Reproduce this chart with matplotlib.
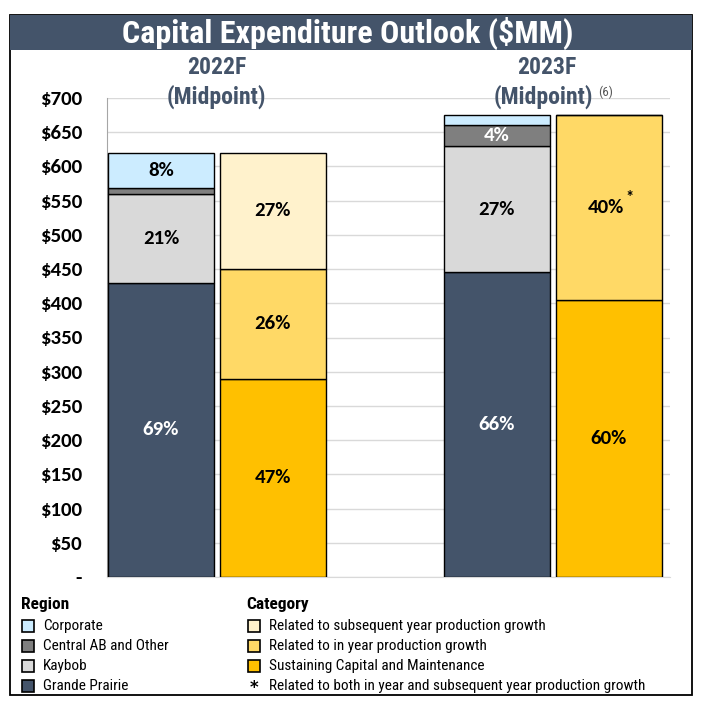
import matplotlib
matplotlib.use("Agg")
import matplotlib.pyplot as plt
from matplotlib.patches import Rectangle
import numpy as np

# data ($MM)
years = ["2022F", "2023F"]
region_names = ["Grande Prairie", "Kaybob", "Central AB and Other", "Corporate"]
region_vals = {
    "Grande Prairie": [430, 445],
    "Kaybob": [130, 185],
    "Central AB and Other": [9, 30],
    "Corporate": [51, 15],
}
region_pct = {
    "Grande Prairie": ["69%", "66%"],
    "Kaybob": ["21%", "27%"],
    "Central AB and Other": ["", "4%"],
    "Corporate": ["8%", ""],
}
cat_names = ["Sustaining Capital and Maintenance",
             "Related to in year production growth",
             "Related to subsequent year production growth"]
cat_vals = {
    "Sustaining Capital and Maintenance": [290, 405],
    "Related to in year production growth": [160, 270],
    "Related to subsequent year production growth": [170, 0],
}
cat_pct = {
    "Sustaining Capital and Maintenance": ["47%", "60%"],
    "Related to in year production growth": ["26%", "40%"],
    "Related to subsequent year production growth": ["27%", ""],
}
yticks = [0, 50, 100, 150, 200, 250, 300, 350, 400, 450, 500, 550, 600, 650, 700]
ytick_labels = ["-"] + ["$%d" % v for v in yticks[1:]]

colors = {
    "Grande Prairie": "#44546A",
    "Kaybob": "#D9D9D9",
    "Central AB and Other": "#7F7F7F",
    "Corporate": "#CCECFF",
    "Sustaining Capital and Maintenance": "#FFC000",
    "Related to in year production growth": "#FFD966",
    "Related to subsequent year production growth": "#FFF2CC",
}
white_lbl = {"Grande Prairie", "Central AB and Other"}

narrow = ["Roboto Condensed", "DejaVu Sans"]
calib = ["Carlito", "DejaVu Sans"]
slate = "#44546A"

W, H = 706, 708
def fx(p): return p / W
def fy(p): return 1 - p / H

fig = plt.figure(figsize=(7.06, 7.08), dpi=100)

# outer frame + title banner
fig.add_artist(Rectangle((fx(10), fy(695)), fx(692) - fx(10), fy(15) - fy(695),
                         transform=fig.transFigure, fill=False, ec="black", lw=1.3))
fig.add_artist(Rectangle((fx(10), fy(50)), fx(692) - fx(10), fy(15) - fy(50),
                         transform=fig.transFigure, fc=slate, ec="none"))
fig.text(fx(348), fy(33), "Capital Expenditure Outlook ($MM)", color="white",
         ha="center", va="center", fontsize=23, fontweight="bold", family=narrow)

ax = fig.add_axes([fx(107), fy(577), fx(670) - fx(107), fy(98) - fy(577)])

reg_x = np.array([0, 3])
cat_x = np.array([1, 4])
bw = 0.946

bottom = np.zeros(2)
for name in region_names:
    vals = np.array(region_vals[name])
    ax.bar(reg_x, vals, bw, bottom=bottom, color=colors[name], edgecolor="black", lw=1.0, zorder=3)
    for i in range(2):
        if region_pct[name][i]:
            ax.text(reg_x[i], bottom[i] + vals[i] / 2, region_pct[name][i], ha="center", va="center",
                    fontsize=15, fontweight="bold", family=calib,
                    color="white" if name in white_lbl else "black", zorder=4)
    bottom += vals

bottom = np.zeros(2)
for name in cat_names:
    vals = np.array(cat_vals[name])
    ax.bar(cat_x, vals, bw, bottom=bottom, color=colors[name], edgecolor="black", lw=1.0, zorder=3)
    for i in range(2):
        if cat_pct[name][i]:
            # 2023 in-year label carries an asterisk, so nudge it left a bit
            dx = -0.03 if (name == cat_names[1] and i == 1) else 0
            ax.text(cat_x[i] + dx, bottom[i] + vals[i] / 2, cat_pct[name][i], ha="center", va="center",
                    fontsize=15, fontweight="bold", family=calib, color="black", zorder=4)
    bottom += vals
# asterisk on 2023 in-year growth label
ax.text(cat_x[1] + 0.185, 405 + 270 / 2 + 14, "*", ha="center", va="center",
        fontsize=12, fontweight="bold", family=calib, zorder=4)

ax.set_xlim(-0.482, 4.545)
ax.set_ylim(0, 700)
ax.set_yticks(yticks)
ax.set_yticklabels(ytick_labels, fontsize=15, fontweight="bold", family=calib)
ax.tick_params(axis="y", length=0, pad=18)
ax.set_xticks([])
ax.grid(axis="y", color="#D9D9D9", lw=1, zorder=0)
for s in ["top", "right"]:
    ax.spines[s].set_visible(False)
ax.spines["left"].set_color("#A6A6A6")
ax.spines["bottom"].set_color("#D9D9D9")

# column headers
fig.text(fx(217), fy(68), years[0], ha="center", va="center", color=slate,
         fontsize=17, fontweight="bold", family=narrow)
fig.text(fx(547), fy(68), years[1], ha="center", va="center", color=slate,
         fontsize=17, fontweight="bold", family=narrow)
fig.text(fx(216), fy(97), "(Midpoint)", ha="center", va="center", color=slate,
         fontsize=17, fontweight="bold", family=narrow)
fig.text(fx(543), fy(97), "(Midpoint)", ha="center", va="center", color=slate,
         fontsize=17, fontweight="bold", family=narrow)
fig.text(fx(598), fy(92), "(6)", ha="left", va="center", color="#595959",
         fontsize=9.5, family=narrow)

# legends
fig.text(fx(21), fy(605), "Region", ha="left", va="center", fontsize=12.5,
         fontweight="bold", family=narrow)
fig.text(fx(246), fy(605), "Category", ha="left", va="center", fontsize=12.5,
         fontweight="bold", family=narrow)
sq = 12
for k, name in enumerate(["Corporate", "Central AB and Other", "Kaybob", "Grande Prairie"]):
    yc = 626 + 20 * k
    fig.add_artist(Rectangle((fx(22), fy(yc + sq / 2)), fx(sq), fy(0) - fy(sq),
                             transform=fig.transFigure, fc=colors[name], ec="black", lw=1.2))
    fig.text(fx(43), fy(yc), name, ha="left", va="center", fontsize=11, family=narrow)
for k, name in enumerate(["Related to subsequent year production growth",
                          "Related to in year production growth",
                          "Sustaining Capital and Maintenance"]):
    yc = 626 + 20 * k
    fig.add_artist(Rectangle((fx(248), fy(yc + sq / 2)), fx(sq), fy(0) - fy(sq),
                             transform=fig.transFigure, fc=colors[name], ec="black", lw=1.2))
    fig.text(fx(269), fy(yc), name, ha="left", va="center", fontsize=11, family=narrow)
fig.text(fx(254), fy(688), "*", ha="center", va="center", fontsize=12, fontweight="bold")
fig.text(fx(269), fy(686), "Related to both in year and subsequent year production growth",
         ha="left", va="center", fontsize=11, family=narrow)

fig.savefig("out.png", dpi=100)
